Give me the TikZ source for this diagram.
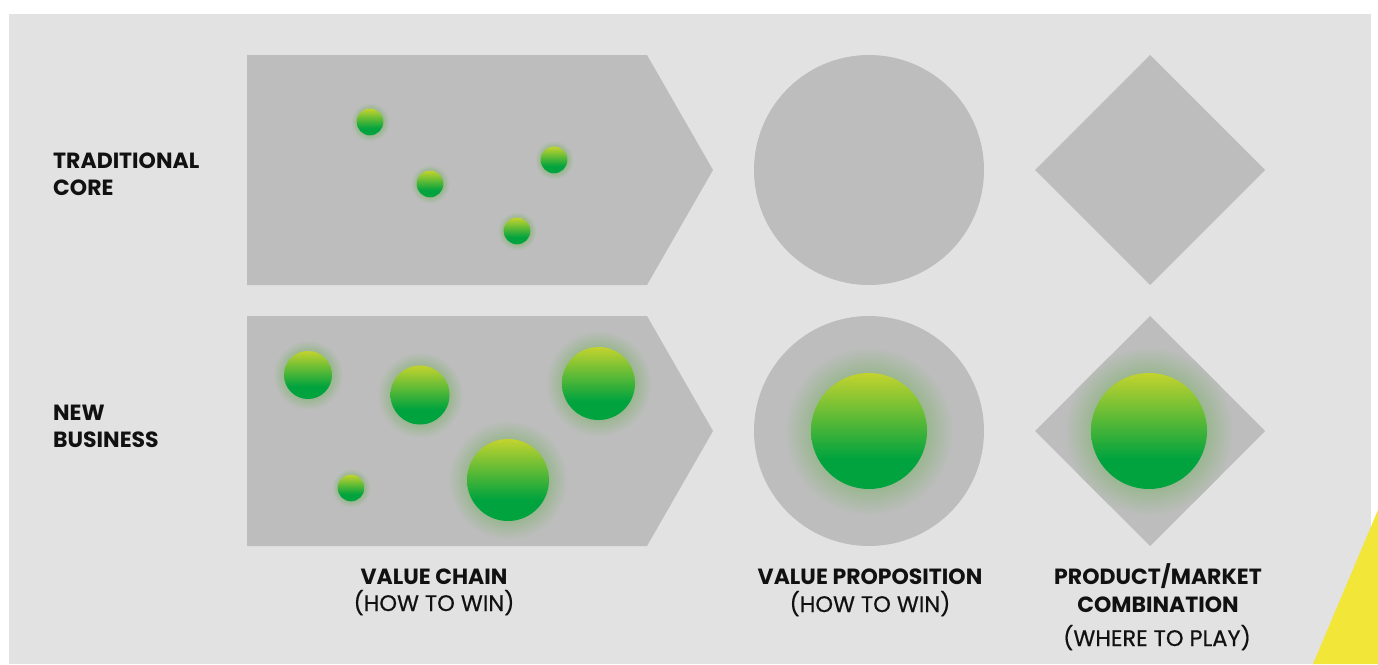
\documentclass[tikz,border=0pt]{standalone}
\usepackage{fontspec}
\setmainfont{Poppins}
\newfontfamily\subfont[FakeBold=0.6]{Poppins}

\definecolor{pagebg}{HTML}{E2E2E2}
\definecolor{shapegray}{HTML}{BCBDBC}
\definecolor{ballgreen}{HTML}{00A33E}
\definecolor{ballyellow}{HTML}{C3D32E}
\definecolor{haloin}{HTML}{98B68E}
\definecolor{accent}{HTML}{F2E638}
\definecolor{ink}{HTML}{111111}

% vertical fill of a dot: solid green at the bottom, turning yellow-green at the top
\pgfdeclareverticalshading{dotfill}{100bp}{color(0bp)=(ballgreen); color(38bp)=(ballgreen); color(75bp)=(ballyellow); color(100bp)=(ballyellow)}
% soft greenish glow fading into the shape grey
\pgfdeclareradialshading{dotglow}{\pgfpointorigin}{color(0bp)=(haloin); color(16.5bp)=(haloin); color(25bp)=(shapegray); color(50bp)=(shapegray)}

% glowing dot: name, x, y, radius
\newcommand\glowdot[4]{%
  \shade[shading=dotglow] (#2,#3) circle[radius=1.45*#4];
  \shade[shading=dotfill] (#2,#3) circle[radius=#4];
  \coordinate (#1) at (#2,#3);
}

\tikzset{
  area/.style={fill=shapegray},
  headlabel/.style={inner sep=0pt, text=ink, font=\bfseries\fontsize{22}{26}\selectfont},
  sublabel/.style={inner sep=0pt, text=ink, font=\subfont\fontsize{22.5}{26}\selectfont},
}

\begin{document}
\begin{tikzpicture}[x=1pt,y=-1pt]
  \useasboundingbox (0,0) rectangle (1378,664);
  \fill[white] (0,0) rectangle (1378,664);
  \fill[pagebg] (9,14) rectangle (1371,664);
  \fill[accent] (1378,510) -- (1378,664) -- (1313,664) -- cycle;

  % row 1: traditional core
  \fill[area] (247,55) -- (647,55) -- (713,170) -- (647,285) -- (247,285) -- cycle;
  \fill[area] (869,170) circle[radius=115];
  \fill[area] (1150,55) -- (1265,170) -- (1150,285) -- (1035,170) -- cycle;

  % row 2: new business
  \fill[area] (247,316) -- (647,316) -- (713,431) -- (647,546) -- (247,546) -- cycle;
  \fill[area] (869,431) circle[radius=115];
  \fill[area] (1150,316) -- (1265,431) -- (1150,546) -- (1035,431) -- cycle;

  % dots in the traditional value chain
  \glowdot{t1}{370}{122}{13.3}
  \glowdot{t2}{430}{184}{13.3}
  \glowdot{t3}{554}{160}{13.3}
  \glowdot{t4}{517}{231}{13.3}

  % dots in the new business row
  \glowdot{n1}{308}{375}{24}
  \glowdot{n2}{420}{395}{29.5}
  \glowdot{n3}{598.5}{383.5}{36.5}
  \glowdot{n4}{508}{480}{41}
  \glowdot{n5}{351}{488}{13.3}
  \glowdot{n6}{869}{431}{58}
  \begin{scope}
    % keep the glow inside the diamond
    \clip (1150,316) -- (1265,431) -- (1150,546) -- (1035,431) -- cycle;
    \glowdot{n7}{1149}{431}{58}
  \end{scope}

  % row labels
  \node[headlabel, anchor=base west] (tradA) at (53,168) {TRADITIONAL};
  \node[headlabel, anchor=base west] (tradB) at (53,195) {CORE};
  \node[headlabel, anchor=base west] (newA) at (53,420) {NEW};
  \node[headlabel, anchor=base west] (newB) at (53,447) {BUSINESS};

  % column labels
  \node[headlabel, anchor=base] (chainA) at (434,584) {VALUE CHAIN};
  \node[sublabel, anchor=base] (chainB) at (434,611) {(HOW TO WIN)};
  \node[headlabel, anchor=base] (propA) at (870,584) {VALUE PROPOSITION};
  \node[sublabel, anchor=base] (propB) at (870,612) {(HOW TO WIN)};
  \node[headlabel, anchor=base] (pmA) at (1158,584) {PRODUCT/MARKET};
  \node[headlabel, anchor=base] (pmB) at (1158,612) {COMBINATION};
  \node[sublabel, anchor=base] (pmC) at (1157,646) {(WHERE TO PLAY)};
\end{tikzpicture}
\end{document}
